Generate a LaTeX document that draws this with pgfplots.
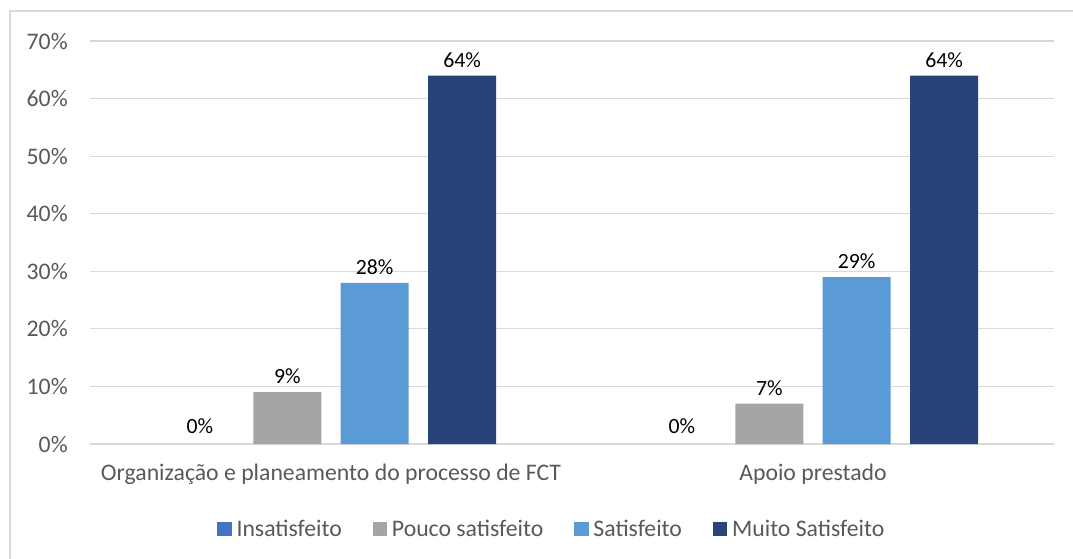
\documentclass[border=0pt]{standalone}
\usepackage{pgfplots}
\pgfplotsset{compat=1.18}
\usepackage{fontspec}
\setmainfont{Carlito}

\definecolor{cInsat}{HTML}{4472C4}
\definecolor{cPouco}{HTML}{A5A5A5}
\definecolor{cSatis}{HTML}{5B9BD5}
\definecolor{cMuito}{HTML}{264478}
\definecolor{gridGray}{HTML}{D9D9D9}
\definecolor{txtGray}{HTML}{595959}

\begin{document}
\begin{tikzpicture}[x=1pt,y=1pt]
  \useasboundingbox (0,0) rectangle (804.75,418.5);
  % chart frame (only left and top edges fall inside the picture)
  \draw[gridGray, line width=0.9pt] (7.5,-2) -- (7.5,410.25) -- (810,410.25);
  \begin{axis}[
    at={(67.5pt,85.5pt)}, anchor=south west,
    scale only axis, width=723pt, height=302.25pt,
    ybar,
    xmin=-0.5, xmax=1.5, ymin=0, ymax=70,
    axis line style={draw=none},
    major tick length=0pt,
    ytick={0,10,...,70},
    ymajorgrids, grid style={gridGray, line width=0.9pt},
    xtick={0,1},
    xticklabels={Organização e planeamento do processo de FCT, Apoio prestado},
    xticklabel style={font=\fontsize{17.8}{20}\selectfont, text=txtGray, inner sep=0pt, anchor=north, yshift=-15pt},
    yticklabel={\pgfmathprintnumber{\tick}\%},
    yticklabel style={font=\fontsize{17.8}{20}\selectfont, text=txtGray, inner sep=0pt, anchor=east, xshift=-16.5pt},
    /pgf/number format/assume math mode=true,
    bar width=0.141,
    nodes near coords={\pgfmathprintnumber{\pgfplotspointmeta}\%},
    every node near coord/.append style={font=\fontsize{16.3}{18}\selectfont, text=black, yshift=2.5pt},
    legend columns=4,
    legend style={draw=none, at={(0.48,-0.211)}, anchor=center,
      font=\fontsize{17.8}{20}\selectfont, text=txtGray,
      nodes={inner sep=3pt},
      /tikz/every odd column/.append style={column sep=0.6pt},
      /tikz/every even column/.append style={column sep=20pt}},
    legend image code/.code={\fill[#1,draw=none] (0pt,-5.4pt) rectangle (11pt,5.4pt);},
  ]
    \addplot[fill=none, draw=none, bar shift=-0.272,
      legend image code/.code={\fill[cInsat] (0pt,-5.4pt) rectangle (11pt,5.4pt);},
      every node near coord/.append style={yshift=2pt}]
      coordinates {(0,0) (1,0)};
    \addlegendentry{Insatisfeito}
    \addplot[fill=cPouco, draw=none, bar shift=-0.0907]
      coordinates {(0,9) (1,7)};
    \addlegendentry{Pouco satisfeito}
    \addplot[fill=cSatis, draw=none, bar shift=0.0907]
      coordinates {(0,28) (1,29)};
    \addlegendentry{Satisfeito}
    \addplot[fill=cMuito, draw=none, bar shift=0.272]
      coordinates {(0,64) (1,64)};
    \addlegendentry{Muito Satisfeito}
  \end{axis}
\end{tikzpicture}
\end{document}
